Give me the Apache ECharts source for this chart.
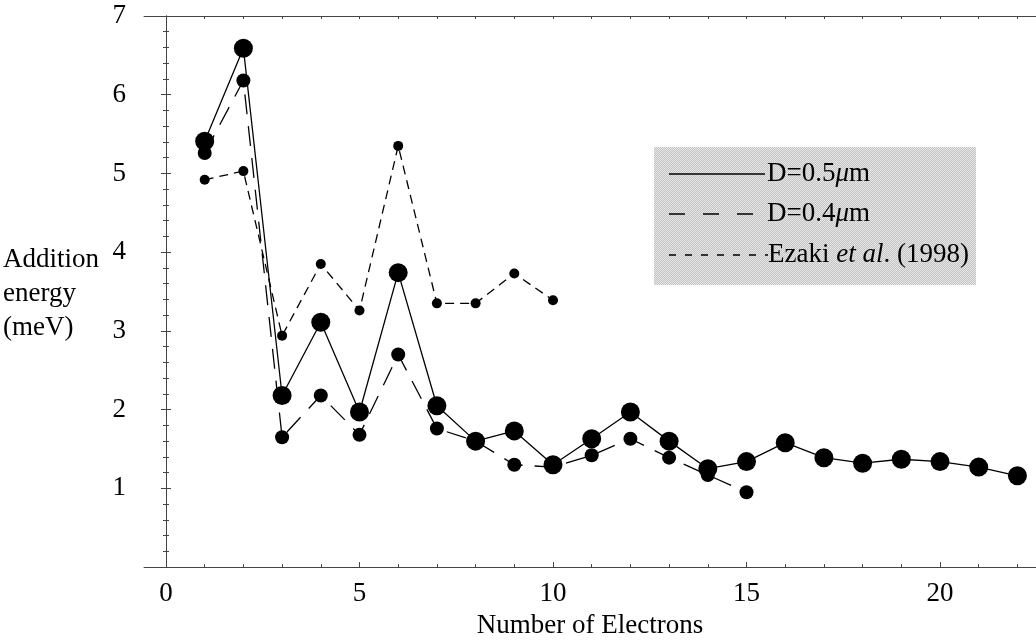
<!DOCTYPE html>
<html>
<head>
<meta charset="utf-8">
<script src="https://cdn.jsdelivr.net/npm/echarts@6/dist/echarts.min.js"></script>
<style>
  html, body { margin: 0; padding: 0; background: #fff; }
  #chart { width: 1036px; height: 644px; }
</style>
</head>
<body>
<div id="chart"></div>
<script>
// number of electrons
const nBig = [1, 2, 3, 4, 5, 6, 7, 8, 9, 10, 11, 12, 13, 14, 15, 16, 17, 18, 19, 20, 21, 22];
const nMid = [1, 2, 3, 4, 5, 6, 7, 8, 9, 10, 11, 12, 13, 14, 15];
const nEzaki = [1, 2, 3, 4, 5, 6, 7, 8, 9, 10];

// addition energy (meV)
const d05 = [5.41, 6.59, 2.18, 3.11, 1.97, 3.74, 2.05, 1.60, 1.73, 1.30, 1.63, 1.97, 1.60, 1.25, 1.34, 1.58, 1.39, 1.32, 1.37, 1.34, 1.27, 1.16];
const d04 = [5.26, 6.18, 1.65, 2.18, 1.68, 2.70, 1.76, 1.60, 1.30, 1.27, 1.42, 1.63, 1.39, 1.17, 0.95];
const ezaki = [4.92, 5.03, 2.94, 3.85, 3.26, 5.35, 3.35, 3.35, 3.73, 3.39];

// ticks
const xLabels = [0, 5, 10, 15, 20];
const xTicks = [0, 1, 2, 3, 4, 5, 6, 7, 8, 9, 10, 11, 12, 13, 14, 15, 16, 17, 18, 19, 20, 21, 22];
const yLabels = [1, 2, 3, 4, 5, 6, 7];

const font = '"Liberation Serif", "DejaVu Serif", serif';
const fs = 27;

function pairs(xs, ys) {
  return xs.map((x, i) => [x, ys[i]]);
}

// stippled grey for the legend box
const pat = document.createElement('canvas');
pat.width = 2; pat.height = 2;
const pc = pat.getContext('2d');
pc.fillStyle = '#e6e6e6'; pc.fillRect(0, 0, 2, 2);
pc.fillStyle = '#c4c4c4'; pc.fillRect(0, 0, 1, 1); pc.fillRect(1, 1, 1, 1);

const myChart = echarts.init(document.getElementById('chart'));

const xRange = { min: -0.568, max: 22.48 };
const axisCol = '#444';

const richText = {
  n: { fontFamily: font, fontSize: fs, fill: '#000' },
  i: { fontFamily: font, fontSize: fs, fontStyle: 'italic', fill: '#000' }
};

const option = {
  backgroundColor: '#fff',
  animation: false,
  grid: { left: 144, top: 16, width: 893, height: 553 },
  xAxis: [
    {
      type: 'value', position: 'bottom', ...xRange,
      name: 'Number of Electrons', nameLocation: 'middle', nameGap: 42,
      nameTextStyle: { fontFamily: font, fontSize: fs, color: '#000' },
      axisLine: { lineStyle: { color: axisCol, width: 1 } },
      axisTick: { inside: true, length: 5, customValues: xLabels, lineStyle: { color: axisCol } },
      axisLabel: { customValues: xLabels, fontFamily: font, fontSize: fs, color: '#000', margin: 13 },
      splitLine: { show: false }
    },
    {
      type: 'value', position: 'bottom', ...xRange,
      axisLine: { show: false },
      axisTick: { inside: true, length: 3, customValues: xTicks, lineStyle: { color: axisCol } },
      axisLabel: { show: false },
      splitLine: { show: false }
    },
    {
      type: 'value', position: 'top', ...xRange,
      axisLine: { lineStyle: { color: axisCol, width: 1 } },
      axisTick: { inside: true, length: 3, customValues: xTicks, lineStyle: { color: axisCol } },
      axisLabel: { show: false },
      splitLine: { show: false }
    }
  ],
  yAxis: [
    {
      type: 'value', position: 'left', min: 0, max: 7, interval: 1,
      axisLine: { show: true, lineStyle: { color: axisCol, width: 1 } },
      axisTick: { show: true, inside: true, length: 5, lineStyle: { color: axisCol } },
      minorTick: { show: true, splitNumber: 5, length: 3, lineStyle: { color: axisCol } },
      axisLabel: { customValues: yLabels, fontFamily: font, fontSize: fs, color: '#000', margin: 18 },
      splitLine: { show: false }
    },
    {
      type: 'value', position: 'right', min: 0, max: 7, interval: 1,
      axisLine: { show: true, lineStyle: { color: axisCol, width: 1 } },
      axisTick: { show: true, inside: true, length: 5, lineStyle: { color: axisCol } },
      minorTick: { show: true, splitNumber: 5, length: 3, lineStyle: { color: axisCol } },
      axisLabel: { show: false },
      splitLine: { show: false }
    }
  ],
  series: [
    {
      name: 'Ezaki et al. (1998)', type: 'line', data: pairs(nEzaki, ezaki),
      symbol: 'circle', symbolSize: 10,
      itemStyle: { color: '#000' },
      lineStyle: { color: '#000', width: 1.3, type: [9, 6] }
    },
    {
      name: 'D=0.4μm', type: 'line', data: pairs(nMid, d04),
      symbol: 'circle', symbolSize: 14,
      itemStyle: { color: '#000' },
      lineStyle: { color: '#000', width: 1.3, type: [20, 12] }
    },
    {
      name: 'D=0.5μm', type: 'line', data: pairs(nBig, d05),
      symbol: 'circle', symbolSize: 19,
      itemStyle: { color: '#000' },
      lineStyle: { color: '#000', width: 1.3, type: 'solid' }
    }
  ],
  graphic: [
    {
      type: 'text', left: 3, top: 243,
      style: {
        text: 'Addition\nenergy\n(meV)', fontFamily: font, fontSize: fs,
        lineHeight: 34, fill: '#000'
      }
    },
    {
      type: 'group', left: 654, top: 147,
      children: [
        { type: 'rect', shape: { x: 0, y: 0, width: 322, height: 138 },
          style: { fill: { image: pat, repeat: 'repeat' } } },
        { type: 'line', shape: { x1: 15, y1: 27, x2: 111, y2: 27 },
          style: { stroke: '#000', lineWidth: 1.3 } },
        { type: 'line', shape: { x1: 15, y1: 67, x2: 101, y2: 67 },
          style: { stroke: '#000', lineWidth: 1.3, lineDash: [16, 18] } },
        { type: 'line', shape: { x1: 15, y1: 108, x2: 114, y2: 108 },
          style: { stroke: '#000', lineWidth: 1.3, lineDash: [7, 9] } },
        { type: 'text', x: 113, y: 27,
          style: { text: '{n|D=0.5}{i|μ}{n|m}', verticalAlign: 'middle', rich: richText } },
        { type: 'text', x: 113, y: 67,
          style: { text: '{n|D=0.4}{i|μ}{n|m}', verticalAlign: 'middle', rich: richText } },
        { type: 'text', x: 114, y: 108,
          style: { text: '{n|Ezaki }{i|et al}{n|. (1998)}', verticalAlign: 'middle', rich: richText } }
      ]
    }
  ]
};

myChart.setOption(option);
</script>
</body>
</html>
